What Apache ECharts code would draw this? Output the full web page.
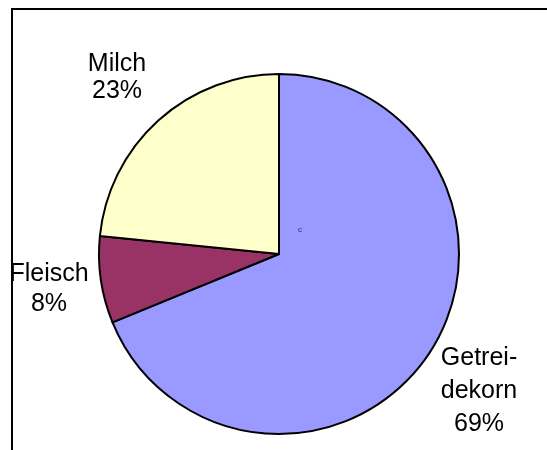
<!DOCTYPE html>
<html>
<head>
<meta charset="utf-8">
<script src="https://cdn.jsdelivr.net/npm/echarts@6/dist/echarts.min.js"></script>
<style>
html,body{margin:0;padding:0;background:#fff;}
#chart{width:547px;height:450px;}
</style>
</head>
<body>
<div id="chart"></div>
<script>
const categories = ['Getreidekorn', 'Fleisch', 'Milch'];
const labelNames = ['Getrei-\ndekorn', 'Fleisch', 'Milch'];
const values = [68.8, 7.8, 23.4];
const colors = ['#9999FF', '#993366', '#FFFFCC'];
const labelCenters = [[479, 391], [49, 289], [117, 78]];
const labelLineHeights = [33, 30, 27];

const chart = echarts.init(document.getElementById('chart'), null, {renderer: 'canvas'});
const data = categories.map((c, i) => ({
  name: c,
  value: values[i],
  itemStyle: {color: colors[i]},
  label: {lineHeight: labelLineHeights[i]}
}));

chart.setOption({
  animation: false,
  backgroundColor: '#ffffff',
  graphic: [
    {type: 'rect', shape: {x: 12, y: 9, width: 600, height: 500}, style: {fill: 'none', stroke: '#000', lineWidth: 2}, z: 100},
    {type: 'text', x: 300, y: 230, style: {text: 'c', font: '8px "Liberation Sans", Arial', fill: '#333366', align: 'center', verticalAlign: 'middle'}, z: 100}
  ],
  series: [{
    type: 'pie',
    center: [279, 254],
    radius: [0, 180],
    startAngle: 90,
    clockwise: true,
    data: data,
    itemStyle: {borderColor: '#000', borderWidth: 2},
    emphasis: {disabled: true},
    labelLine: {show: false},
    label: {
      show: true,
      position: 'outside',
      alignTo: 'none',
      overflow: 'none',
      fontFamily: '"Liberation Sans", Arial, sans-serif',
      fontSize: 25,
      color: '#000',
      align: 'center',
      formatter: function (p) {
        return labelNames[p.dataIndex] + '\n' + Math.round(p.percent) + '%';
      }
    },
    labelLayout: function (p) {
      const c = labelCenters[p.dataIndex];
      return {x: c[0], y: c[1], align: 'center', verticalAlign: 'middle', hideOverlap: false};
    }
  }]
});
</script>
</body>
</html>
